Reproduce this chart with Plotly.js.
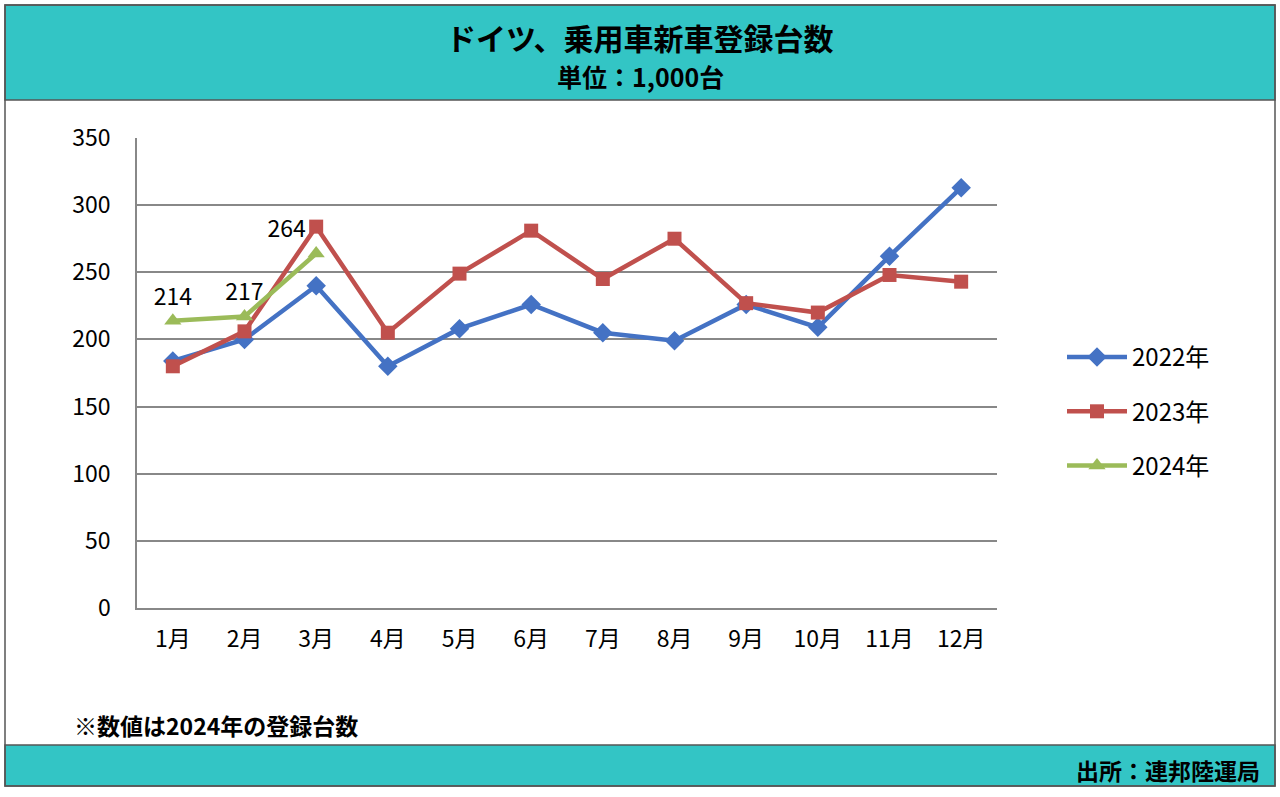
<!DOCTYPE html><html><head><meta charset="utf-8">
<script src="https://cdn.plot.ly/plotly-3.0.1.min.js"></script></head>
<body style="margin:0"><div id="c" style="width:1280px;height:797px"></div>
<script>
const months=['1月','2月','3月','4月','5月','6月','7月','8月','9月','10月','11月','12月'];
const y2022=[184,200,240,180,208,226,205,199,226,209,262,313];
const y2023=[180,206,284,205,249,281,245,275,227,220,248,243];
const y2024=[214,217,264];
const F='"Noto Sans CJK JP", sans-serif';
const px=x=>(x-137)/860, py=y=>(608-y)/470;
const teal='#33c5c5';
const traces=[
{x:months,y:y2022,name:'2022年',legendgroup:'a',mode:'lines+markers',line:{color:'#4472c4',width:4.5},marker:{symbol:'diamond',size:15}},
{x:months,y:y2023,name:'2023年',legendgroup:'b',mode:'lines+markers',line:{color:'#c0504d',width:4.5},marker:{symbol:'square',size:14}},
{x:months.slice(0,3),y:y2024,name:'2024年',legendgroup:'c',mode:'lines+markers+text',line:{color:'#9bbb59',width:4.5},marker:{symbol:'triangle-up',size:15},
 text:y2024.map(String),textposition:['top center','top center','top left'],textfont:{size:23,color:'#000',family:F}}
];
const layout={width:1280,height:797,margin:{l:137,r:283,t:138,b:189},paper_bgcolor:'#fff',plot_bgcolor:'#fff',
font:{family:F,color:'#000'},showlegend:true,
legend:{x:px(1062),y:py(335),xanchor:'left',yanchor:'top',font:{size:24},tracegroupgap:20,itemwidth:60},
xaxis:{type:'category',range:[-0.5,11.5],showgrid:false,tickfont:{size:23},showline:true,linecolor:'#888',linewidth:1.5,ticks:'',ticklabelstandoff:10,fixedrange:true},
yaxis:{range:[0,350],dtick:50,tickfont:{size:23},gridcolor:'#888',gridwidth:1.5,showline:true,linecolor:'#888',linewidth:1.5,zeroline:false,ticks:'',ticklabelstandoff:20},
shapes:[
{type:'rect',xref:'paper',yref:'paper',x0:px(5),x1:px(1275),y0:py(5),y1:py(100),fillcolor:teal,line:{color:'#555',width:1.5},layer:'below'},
{type:'rect',xref:'paper',yref:'paper',x0:px(5),x1:px(1275),y0:py(745),y1:py(786),fillcolor:teal,line:{color:'#555',width:1.5},layer:'below'},
{type:'rect',xref:'paper',yref:'paper',x0:px(5),x1:px(1275),y0:py(5),y1:py(786),line:{color:'#555',width:1.5},layer:'below'}
],
annotations:[
{xref:'paper',yref:'paper',x:px(640),y:py(37),xanchor:'center',yanchor:'middle',text:'<b>ドイツ、乗用車新車登録台数</b>',showarrow:false,font:{size:30}},
{xref:'paper',yref:'paper',x:px(640),y:py(76),xanchor:'center',yanchor:'middle',text:'<b>単位：1,000台</b>',showarrow:false,font:{size:25}},
{xref:'paper',yref:'paper',x:px(72),y:py(725),xanchor:'left',yanchor:'middle',text:'<b>※数値は2024年の登録台数</b>',showarrow:false,font:{size:23}},
{xref:'paper',yref:'paper',x:px(1262),y:py(770),xanchor:'right',yanchor:'middle',text:'<b>出所：連邦陸運局</b>',showarrow:false,font:{size:23}}
]};
Plotly.newPlot('c',traces,layout,{displayModeBar:false});
</script></body></html>
